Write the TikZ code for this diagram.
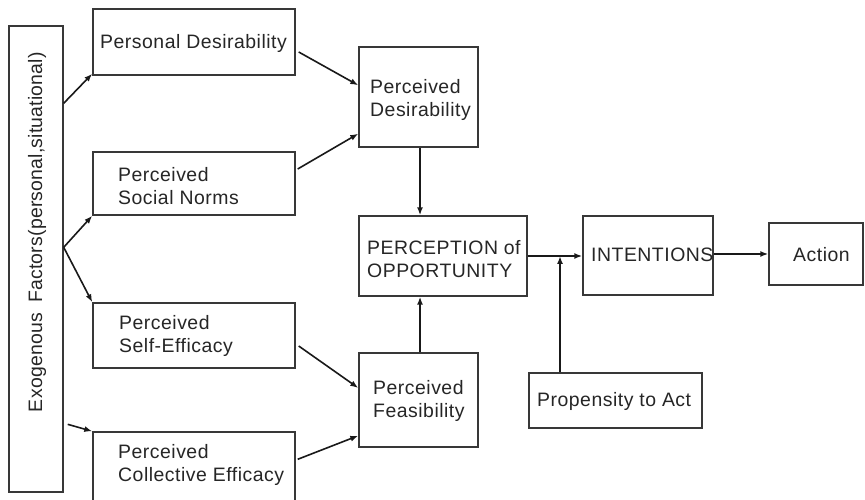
\documentclass[tikz,border=0pt]{standalone}
\usepackage{fontspec}
\newfontfamily\labfont[LetterSpace=2.6]{Liberation Sans}
\newfontfamily\sidefont[LetterSpace=1]{Liberation Sans}
\usetikzlibrary{arrows.meta}
\begin{document}
\begin{tikzpicture}[x=1bp, y=-1bp,
  blk/.style={draw=black!78, line width=1.4bp, inner sep=0pt, fill=white},
  txt/.style={font=\labfont\fontsize{19.5}{22.5}\selectfont, text=black!85,
    align=left, inner sep=0pt, anchor=west},
  arr/.style={-{Latex[length=8bp,width=6bp]}, line width=1.6bp, draw=black!90}]
\useasboundingbox (0,0) rectangle (865,500);

% boxes (centre, size)
\node[blk, minimum width=54bp,  minimum height=466bp] (exo) at (36,259) {};
\node[blk, minimum width=202bp, minimum height=66bp]  (pd)  at (194,42) {};
\node[blk, minimum width=202bp, minimum height=63bp]  (sn)  at (194,183.5) {};
\node[blk, minimum width=202bp, minimum height=65bp]  (se)  at (194,335.5) {};
\node[blk, minimum width=202bp, minimum height=78bp]  (ce)  at (194,471) {};
\node[blk, minimum width=119bp, minimum height=100bp] (des) at (418.5,97) {};
\node[blk, minimum width=168bp, minimum height=80bp]  (opp) at (443,256) {};
\node[blk, minimum width=119bp, minimum height=94bp]  (fea) at (418.5,400) {};
\node[blk, minimum width=130bp, minimum height=79bp]  (int) at (648,255.5) {};
\node[blk, minimum width=94bp,  minimum height=62bp]  (act) at (816,254) {};
\node[blk, minimum width=173bp, minimum height=55bp]  (pro) at (615.5,400.5) {};

% labels
\node[txt, font=\sidefont\fontsize{19.5}{22.5}\selectfont, anchor=center, rotate=90]
  (exo-t) at (37,232) {Exogenous\hspace{0.55em}Factors(personal,situational)};
\node[txt] (pd-t)  at (100,43)  {Personal Desirability};
\node[txt] (sn-t)  at (118,186) {Perceived\\Social Norms};
\node[txt] (se-t)  at (119,336) {Perceived\\Self-Efficacy};
\node[txt] (ce-t)  at (118,465) {Perceived\\Collective Efficacy};
\node[txt] (des-t) at (370,100) {Perceived\\Desirability};
\node[txt] (opp-t) at (367,259) {PERCEPTION of\\OPPORTUNITY};
\node[txt] (fea-t) at (373,401) {Perceived\\Feasibility};
\node[txt] (int-t) at (591,255) {INTENTIONS};
\node[txt] (act-t) at (793,255) {Action};
\node[txt] (pro-t) at (537,401) {Propensity to Act};

% exogenous factors feed the four perception boxes
\draw[arr] ([yshift=-78bp]exo.north east) -- ([yshift=2bp]pd.south west);
\draw[arr] ([yshift=-222bp]exo.north east) -- (sn.south west);
\draw[arr] ([yshift=-222bp]exo.north east) -- (se.north west);
\draw[arr] ([xshift=4bp,yshift=-399bp]exo.north east) -- (ce.north west);

% antecedents of desirability and feasibility
\draw[arr] ([xshift=3bp,yshift=-10bp]pd.east) -- ([yshift=-39bp]des.north west);
\draw[arr] ([xshift=2bp,yshift=14.5bp]sn.east) -- ([yshift=14bp]des.south west);
\draw[arr] ([xshift=3bp,yshift=-10.5bp]se.east) -- ([yshift=12bp]fea.west);
\draw[arr] ([xshift=2bp,yshift=-28bp]ce.north east) -- ([yshift=12bp]fea.south west);

% into perception of opportunity
\draw[arr] ([xshift=1.5bp]des.south) -- ([xshift=1.5bp]des.south |- opp.north);
\draw[arr] ([xshift=1.5bp]fea.north) -- ([xshift=1.5bp]fea.north |- opp.south);

% opportunity -> intentions -> action, moderated by propensity
\coordinate (j) at (560,256);
\draw[arr] (opp.east |- j) -- (int.west |- j);
\draw[arr] (j |- pro.north) -- (j);
\draw[arr] (int.east |- act.west) -- (act.west);
\end{tikzpicture}
\end{document}
